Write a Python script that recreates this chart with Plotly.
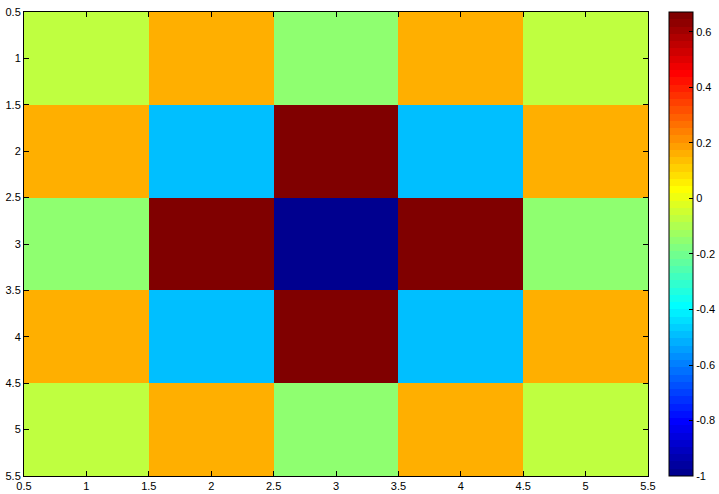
import plotly.graph_objects as go

cols = [1, 2, 3, 4, 5]
rows = [1, 2, 3, 4, 5]
z = [
    [-0.06, 0.17, -0.14, 0.17, -0.06],
    [0.17, -0.48, 0.672, -0.48, 0.17],
    [-0.14, 0.672, -1.0, 0.672, -0.14],
    [0.17, -0.48, 0.672, -0.48, 0.17],
    [-0.06, 0.17, -0.14, 0.17, -0.06],
]
zmin, zmax = -1.0, 0.672
axis_ticks = [0.5, 1, 1.5, 2, 2.5, 3, 3.5, 4, 4.5, 5, 5.5]
cbar_ticks = [-1, -0.8, -0.6, -0.4, -0.2, 0, 0.2, 0.4, 0.6]

# MATLAB jet(64)
n = 16
u = [i / n for i in range(1, n + 1)] + [1.0] * (n - 1) + [i / n for i in range(n, 0, -1)]
def comp(i, off):
    k = i + off
    return u[k - 1] if 1 <= k <= len(u) else 0.0
jet = []
for i in range(1, 65):
    r = comp(i, -24); g = comp(i, -8); b = comp(i, 8)
    jet.append(f"rgb({round(r*255)},{round(g*255)},{round(b*255)})")
cs = []
for i, c in enumerate(jet):
    cs.append([i / 64, c])
    cs.append([(i + 1) / 64, c])

L, R, T, B = 24, 71, 12, 18
W, H = 719, 494
pw = W - L - R

fig = go.Figure(go.Heatmap(
    x=cols, y=rows, z=z, zmin=zmin, zmax=zmax, colorscale=cs,
    colorbar=dict(
        x=(669 - L) / pw, xanchor="left", thickness=24, thicknessmode="pixels",
        len=1, lenmode="fraction", y=0.5, yanchor="middle",
        outlinecolor="black", outlinewidth=1,
        tickvals=cbar_ticks, ticktext=[f"{v:g}" for v in cbar_ticks],
        ticks="inside", ticklen=4, tickcolor="black",
        tickfont=dict(family="Liberation Sans, Arial", size=11, color="black"),
        xpad=0, ypad=0,
    ),
))

axis_common = dict(
    tickvals=axis_ticks, ticktext=[f"{v:g}" for v in axis_ticks],
    ticks="inside", ticklen=5, tickcolor="black",
    showline=True, linecolor="black", linewidth=1, mirror="ticks",
    showgrid=False, zeroline=False, automargin=False,
    tickfont=dict(family="Liberation Sans, Arial", size=11, color="black"),
)
fig.update_xaxes(range=[0.5, 5.5], **axis_common)
fig.update_yaxes(range=[5.5, 0.5], **axis_common)
fig.update_layout(
    width=W, height=H,
    margin=dict(l=L, r=R, t=T, b=B, autoexpand=False),
    paper_bgcolor="white", plot_bgcolor="white",
    font=dict(family="Liberation Sans, Arial", size=11, color="black"),
)
fig.write_html(
    "out.html",
    config={"displayModeBar": False},
    post_script="document.body.style.margin='0px';document.body.style.overflow='hidden';",
)
